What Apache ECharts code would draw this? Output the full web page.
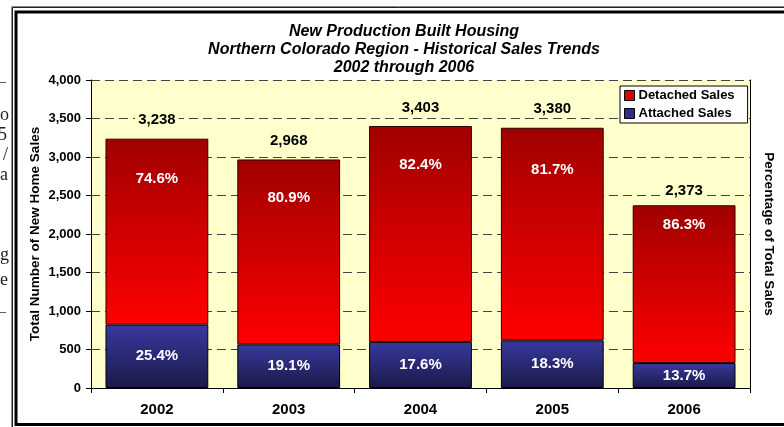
<!DOCTYPE html>
<html><head><meta charset="utf-8">
<script src="https://cdn.jsdelivr.net/npm/echarts@6/dist/echarts.min.js"></script>
<style>html,body{margin:0;padding:0;background:#fff}#c{width:784px;height:427px}</style>
</head><body><div id="c"></div>
<script>
const categories = ['2002', '2003', '2004', '2005', '2006'];
const totalSales = [3238, 2968, 3403, 3380, 2373];
const attachedSales = [822, 567, 599, 619, 325];
const detachedSales = [2416, 2401, 2804, 2761, 2048];
const yMin = 0, yMax = 4000, yStep = 500;

const FONT = '"Liberation Sans", Arial, sans-serif';
const chart = echarts.init(document.getElementById('c'), null, {renderer: 'canvas'});

const pct = (v, i) => (v / totalSales[i] * 100).toFixed(1) + '%';
const detTopDist = [33, 31, 31, 35, 12];
const totDist = [11, 11, 11, 11, 7];

const redGrad = new echarts.graphic.LinearGradient(0, 0, 0, 1, [
  {offset: 0, color: '#a00000'}, {offset: 1, color: '#ff0000'}]);
const blueGrad = new echarts.graphic.LinearGradient(0, 0, 0, 1, [
  {offset: 0, color: '#38389e'}, {offset: 1, color: '#1a1a48'}]);

const option = {
  backgroundColor: '#ffffff',
  animation: false,
  title: {
    text: 'New Production Built Housing\nNorthern Colorado Region - Historical Sales Trends\n2002 through 2006',
    left: 399, top: 18, textAlign: 'center',
    textStyle: {fontFamily: FONT, fontSize: 16, fontWeight: 'bold', fontStyle: 'italic', lineHeight: 18, color: '#000'}
  },
  legend: {
    orient: 'vertical', left: 620, top: 86,
    backgroundColor: '#ffffff', borderColor: '#000', borderWidth: 1,
    padding: [3, 13, 3, 4], itemGap: 5, itemWidth: 10, itemHeight: 10,
    icon: 'rect',
    textStyle: {fontFamily: FONT, fontSize: 13, fontWeight: 'bold', color: '#000', padding: [0, 0, 0, -1]},
    data: [
      {name: 'Detached Sales', itemStyle: {color: '#e00000', borderColor: '#000', borderWidth: 1}},
      {name: 'Attached Sales', itemStyle: {color: '#2e2e8a', borderColor: '#000', borderWidth: 1}}
    ]
  },
  grid: {left: 91, right: 32, top: 80, bottom: 39, show: true, backgroundColor: '#ffffcc', borderWidth: 0},
  xAxis: {
    type: 'category', data: categories,
    axisLine: {lineStyle: {color: '#000', width: 1}},
    axisTick: {show: true, length: 5, lineStyle: {color: '#000'}},
    axisLabel: {fontFamily: FONT, fontSize: 15, fontWeight: 'bold', color: '#000', margin: 14}
  },
  yAxis: [{
    type: 'value', min: yMin, max: yMax, interval: yStep,
    name: 'Total Number of New Home Sales', nameLocation: 'middle', nameGap: 49, nameRotate: 90,
    nameMoveOverlap: false,
    nameTextStyle: {fontFamily: FONT, fontSize: 13.5, fontWeight: 'bold', color: '#000'},
    axisLine: {show: true, lineStyle: {color: '#000'}},
    axisTick: {show: true, length: 5, lineStyle: {color: '#000'}},
    axisLabel: {fontFamily: FONT, fontSize: 13, fontWeight: 'bold', color: '#000', margin: 10,
      formatter: v => v.toLocaleString('en-US')},
    splitLine: {show: true, lineStyle: {color: '#444', type: [9, 5], width: 1}}
  }, {
    type: 'value', min: yMin, max: yMax, interval: yStep, position: 'right',
    name: 'Percentage of Total Sales', nameLocation: 'middle', nameGap: 12, nameRotate: -90,
    nameTextStyle: {fontFamily: FONT, fontSize: 13.5, fontWeight: 'bold', color: '#000'},
    axisLine: {show: true, lineStyle: {color: '#000'}},
    axisTick: {show: false}, axisLabel: {show: false}, splitLine: {show: false}
  }],
  series: [{
    name: 'Attached Sales', type: 'bar', stack: 'sales', barWidth: '78%',
    data: attachedSales,
    itemStyle: {color: blueGrad, borderColor: '#000', borderWidth: 1},
    label: {show: true, position: 'inside', fontFamily: FONT, fontSize: 15, fontWeight: 'bold', color: '#fff',
      formatter: p => pct(p.value, p.dataIndex)}
  }, {
    name: 'Detached Sales', type: 'bar', stack: 'sales', barWidth: '78%',
    data: detachedSales.map((v, i) => ({value: v, label: {distance: detTopDist[i]}})),
    itemStyle: {color: redGrad, borderColor: '#2a0000', borderWidth: 1},
    label: {show: true, position: 'insideTop', fontFamily: FONT, fontSize: 15, fontWeight: 'bold', color: '#fff',
      formatter: p => pct(p.value, p.dataIndex)}
  }, {
    name: 'Total', type: 'bar', barGap: '-100%', barWidth: '78%', z: 5,
    data: totalSales.map((v, i) => ({value: v, label: {distance: totDist[i]}})),
    itemStyle: {color: 'rgba(0,0,0,0)'},
    label: {show: true, position: 'top', fontFamily: FONT, fontSize: 15, fontWeight: 'bold', color: '#000',
      backgroundColor: '#ffffcc', padding: [0, 3], formatter: p => p.value.toLocaleString('en-US')}
  }],
  graphic: [
    {type: 'rect', shape: {x: 11.5, y: 6.5, width: 800, height: 440}, style: {fill: 'none', stroke: '#8a8a8a', lineWidth: 1}, silent: true},
    {type: 'rect', shape: {x: 12.5, y: 7.5, width: 800, height: 440}, style: {fill: 'none', stroke: '#222', lineWidth: 1}, silent: true},
    {type: 'rect', shape: {x: 16, y: 12, width: 800, height: 412.5}, style: {fill: 'none', stroke: '#000', lineWidth: 3}, silent: true},
    {type: 'text', x: 6, y: 82, silent: true, style: {text: '—', font: '15px "Liberation Serif", serif', fill: '#222', align: 'right', verticalAlign: 'middle'}},
    {type: 'text', x: 9, y: 115, silent: true, style: {text: 'o', font: '18px "Liberation Serif", serif', fill: '#222', align: 'right', verticalAlign: 'middle'}},
    {type: 'text', x: 7, y: 135, silent: true, style: {text: '5', font: '18px "Liberation Serif", serif', fill: '#222', align: 'right', verticalAlign: 'middle'}},
    {type: 'text', x: 8, y: 155, silent: true, style: {text: '/', font: '18px "Liberation Serif", serif', fill: '#222', align: 'right', verticalAlign: 'middle'}},
    {type: 'text', x: 8, y: 175, silent: true, style: {text: 'a', font: '18px "Liberation Serif", serif', fill: '#222', align: 'right', verticalAlign: 'middle'}},
    {type: 'text', x: 9, y: 255, silent: true, style: {text: 'g', font: '18px "Liberation Serif", serif', fill: '#222', align: 'right', verticalAlign: 'middle'}},
    {type: 'text', x: 8, y: 280, silent: true, style: {text: 'e', font: '18px "Liberation Serif", serif', fill: '#222', align: 'right', verticalAlign: 'middle'}},
    {type: 'text', x: 6, y: 312, silent: true, style: {text: '—', font: '15px "Liberation Serif", serif', fill: '#222', align: 'right', verticalAlign: 'middle'}}
  ]
};
chart.setOption(option);
</script></body></html>
